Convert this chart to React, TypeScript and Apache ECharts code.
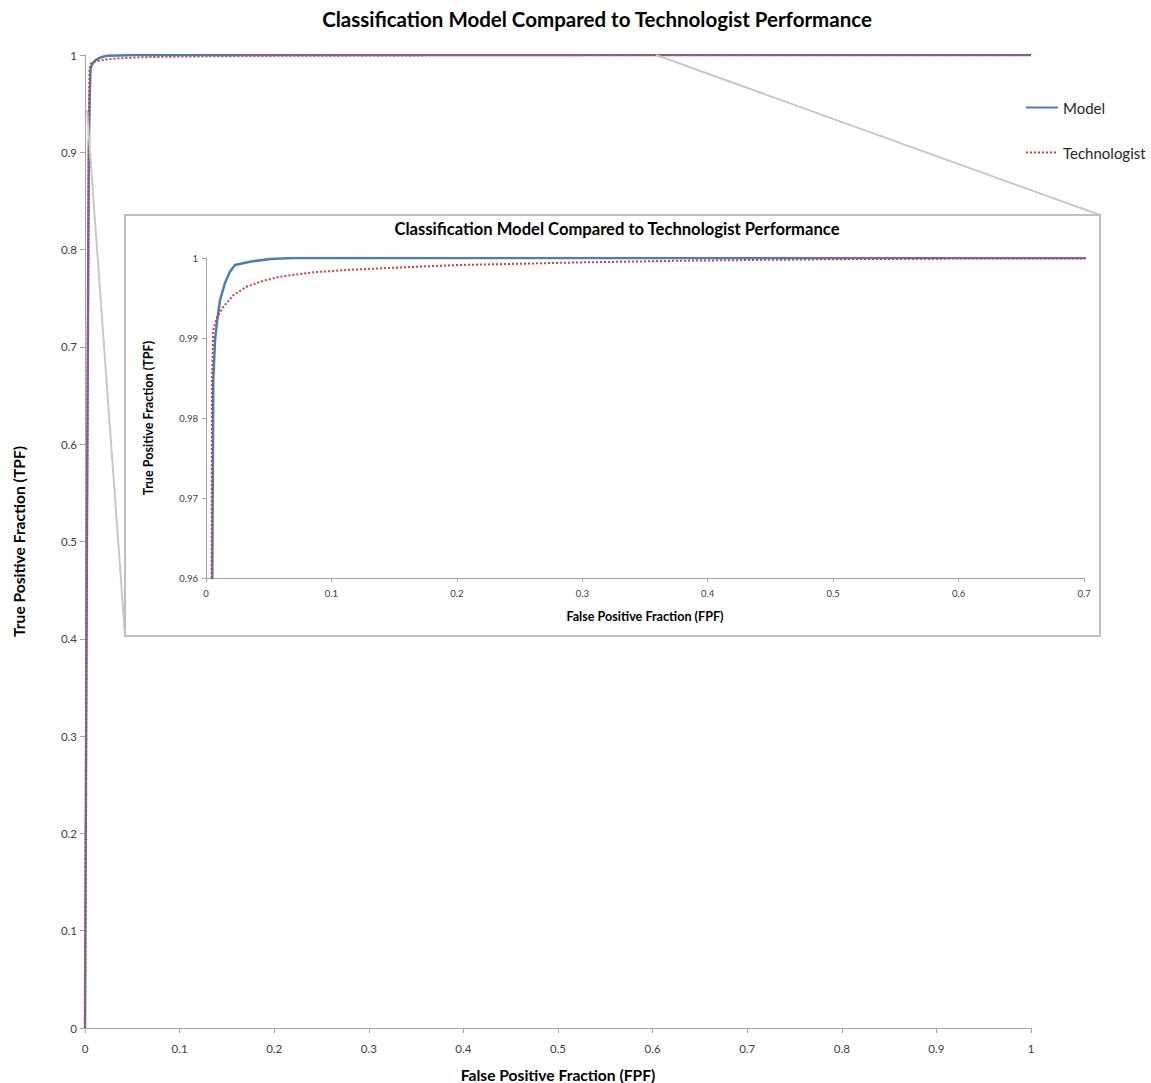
import React, { useEffect, useRef } from "react";
import * as echarts from "echarts";

const TITLE = "Classification Model Compared to Technologist Performance";
const X_NAME = "False Positive Fraction (FPF)";
const Y_NAME = "True Positive Fraction (TPF)";
const SERIES_NAMES = ["Model", "Technologist"];

const modelFPF = [0, 0.002, 0.004, 0.005, 0.0055, 0.0058, 0.0072, 0.009, 0.0112, 0.0151, 0.0191, 0.0231, 0.035, 0.051, 0.07, 1];
const modelTPF = [0, 0.5, 0.9, 0.96, 0.975, 0.98475, 0.98975, 0.99225, 0.99475, 0.99687, 0.99829, 0.99912, 0.99954, 0.99988, 1, 1];

const techFPF = [0, 0.002, 0.004, 0.0045, 0.0048, 0.0058, 0.0085, 0.0138, 0.0218, 0.0324, 0.0457, 0.059, 0.0855, 0.112, 0.139, 0.2, 0.3, 0.378, 0.5, 0.6, 0.7, 1];
const techTPF = [0, 0.5, 0.9, 0.96, 0.98475, 0.991, 0.9925, 0.9939, 0.99537, 0.99641, 0.99716, 0.99766, 0.99821, 0.9985, 0.99871, 0.99912, 0.99945, 0.99966, 0.99985, 0.99993, 0.99995, 1];

const FONT = "Lato, 'Open Sans', sans-serif";

function pairs(xs: number[], ys: number[]) {
  return xs.map((x, i) => [x, ys[i]]);
}

export default function App() {
  const ref = useRef<HTMLDivElement>(null);
  useEffect(() => {
    if (!ref.current) return;
    const chart = echarts.init(ref.current, null, { renderer: "svg" });
    const axisLine = { show: true, lineStyle: { color: "#a6a6a6", width: 1 } };
    const axisTick = { show: true, length: 5, lineStyle: { color: "#a6a6a6" } };
    const modelStyle = { color: "#4a7ebb", width: 2.5, type: "solid" as const };
    const techStyle = { color: "#d93b3b", width: 2, type: "dotted" as const };
    chart.setOption({
      animation: false,
      backgroundColor: "#ffffff",
      textStyle: { fontFamily: FONT },
      title: [
        {
          text: TITLE,
          left: 592,
          top: 3,
          textAlign: "center",
          textStyle: { fontFamily: FONT, fontSize: 20.5, fontWeight: "bold", color: "#000" },
        },
        {
          text: TITLE,
          left: 612,
          top: 215,
          textAlign: "center",
          z: 20,
          textStyle: { fontFamily: FONT, fontSize: 16.6, fontWeight: "bold", color: "#000" },
        },
      ],
      legend: {
        data: SERIES_NAMES,
        orient: "vertical",
        left: 1020,
        top: 95,
        itemWidth: 32,
        itemHeight: 14,
        itemGap: 30,
        itemStyle: { opacity: 0 },
        textStyle: { fontFamily: FONT, fontSize: 15, color: "#262626" },
      },
      grid: [
        { left: 85, top: 55, width: 946, height: 973, containLabel: false, outerBoundsMode: "none" },
        { left: 206, top: 258, width: 878, height: 320, containLabel: false, outerBoundsMode: "none", z: 10 },
      ],
      xAxis: [
        {
          type: "value",
          gridIndex: 0,
          min: 0,
          max: 1,
          interval: 0.1,
          name: X_NAME,
          nameLocation: "middle",
          nameGap: 39,
          nameTextStyle: { fontFamily: FONT, fontSize: 15.6, fontWeight: "bold", color: "#000" },
          axisLine,
          axisTick,
          splitLine: { show: false },
          axisLabel: { margin: 14, fontSize: 11.5, color: "#404040", fontFamily: FONT },
        },
        {
          type: "value",
          gridIndex: 1,
          min: 0,
          max: 0.7,
          interval: 0.1,
          z: 10,
          name: X_NAME,
          nameLocation: "middle",
          nameGap: 32,
          nameTextStyle: { fontFamily: FONT, fontSize: 12.6, fontWeight: "bold", color: "#000" },
          axisLine,
          axisTick: { ...axisTick, length: 4 },
          splitLine: { show: false },
          axisLabel: { margin: 10, fontSize: 9.5, color: "#404040", fontFamily: FONT },
        },
      ],
      yAxis: [
        {
          type: "value",
          gridIndex: 0,
          min: 0,
          max: 1,
          interval: 0.1,
          name: Y_NAME,
          nameLocation: "middle",
          nameGap: 58,
          nameTextStyle: { fontFamily: FONT, fontSize: 15.6, fontWeight: "bold", color: "#000" },
          axisLine,
          axisTick,
          splitLine: { show: false },
          axisLabel: { margin: 8, fontSize: 11.5, color: "#404040", fontFamily: FONT },
        },
        {
          type: "value",
          gridIndex: 1,
          min: 0.96,
          max: 1,
          interval: 0.01,
          z: 10,
          name: Y_NAME,
          nameLocation: "middle",
          nameGap: 51,
          nameTextStyle: { fontFamily: FONT, fontSize: 12.6, fontWeight: "bold", color: "#000" },
          axisLine,
          axisTick: { ...axisTick, length: 4 },
          splitLine: { show: false },
          axisLabel: {
            margin: 8,
            fontSize: 9.5,
            color: "#404040",
            fontFamily: FONT,
            formatter: (v: number) => String(Number(v.toFixed(2))),
          },
        },
      ],
      graphic: [
        {
          type: "line",
          z: 4,
          shape: { x1: 87, y1: 110, x2: 125, y2: 636 },
          style: { stroke: "#c8c8c8", lineWidth: 2 },
        },
        {
          type: "line",
          z: 4,
          shape: { x1: 656, y1: 55, x2: 1100, y2: 215 },
          style: { stroke: "#c8c8c8", lineWidth: 2 },
        },
        {
          type: "rect",
          z: 5,
          shape: { x: 125, y: 215, width: 975, height: 421 },
          style: { fill: "#ffffff", stroke: "#bfbfbf", lineWidth: 2 },
        },
      ],
      series: [
        {
          name: "Model",
          type: "line",
          xAxisIndex: 0,
          yAxisIndex: 0,
          showSymbol: false,
          symbol: "none",
          z: 2,
          lineStyle: modelStyle,
          itemStyle: { color: modelStyle.color },
          data: pairs(modelFPF, modelTPF),
        },
        {
          name: "Technologist",
          type: "line",
          xAxisIndex: 0,
          yAxisIndex: 0,
          showSymbol: false,
          symbol: "none",
          z: 3,
          lineStyle: techStyle,
          itemStyle: { color: techStyle.color },
          data: pairs(techFPF, techTPF),
        },
        {
          name: "Model",
          type: "line",
          xAxisIndex: 1,
          yAxisIndex: 1,
          showSymbol: false,
          symbol: "none",
          z: 12,
          clip: true,
          lineStyle: modelStyle,
          itemStyle: { color: modelStyle.color },
          data: pairs(modelFPF, modelTPF),
        },
        {
          name: "Technologist",
          type: "line",
          xAxisIndex: 1,
          yAxisIndex: 1,
          showSymbol: false,
          symbol: "none",
          z: 13,
          clip: true,
          lineStyle: techStyle,
          itemStyle: { color: techStyle.color },
          data: pairs(techFPF, techTPF),
        },
      ],
    });
    return () => chart.dispose();
  }, []);
  return (
    <div
      ref={ref}
      style={{ position: "absolute", left: 0, top: 0, width: 1151, height: 1083 }}
    />
  );
}
